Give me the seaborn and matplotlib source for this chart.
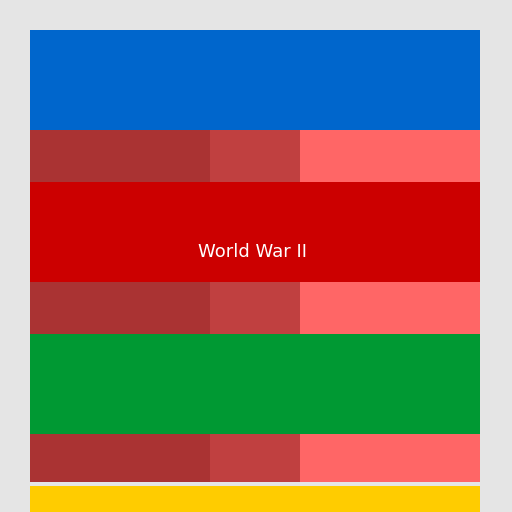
import matplotlib
matplotlib.use("Agg")
import matplotlib.pyplot as plt
import seaborn as sns
import numpy as np

sns.set_style("white")

# bands from top to bottom: (height, [segment widths], [colors])
band_heights = [100, 52, 100, 52, 100, 48, 4, 40]
band_widths = [[450], [180, 90, 180], [450], [180, 90, 180], [450], [180, 90, 180], [450], [450]]
band_colors = [["#0066cc"],
               ["#aa3333", "#c04040", "#ff6666"],
               ["#cc0000"],
               ["#aa3333", "#c04040", "#ff6666"],
               ["#009933"],
               ["#aa3333", "#c04040", "#ff6666"],
               ["#e5e5e5"],
               ["#ffcc00"]]
label_band = 2
label_text = "World War II"

fig = plt.figure(figsize=(5.12, 5.12), dpi=100)
fig.patch.set_facecolor("#e5e5e5")
ax = fig.add_axes([0, 0, 1, 1])
ax.set_facecolor("#e5e5e5")
ax.set_xlim(0, 512)
ax.set_ylim(512, 0)
ax.axis("off")

top = 30
for i, (h, widths, colors) in enumerate(zip(band_heights, band_widths, band_colors)):
    left = 30
    for w, c in zip(widths, colors):
        ax.barh(top + h / 2, w, height=h, left=left, color=c, linewidth=0)
        left += w
    if i == label_band:
        ax.text(253, top + 70, label_text, color="white", fontsize=13,
                ha="center", va="center")
    top += h

fig.savefig("out.png", dpi=100, facecolor=fig.get_facecolor())
